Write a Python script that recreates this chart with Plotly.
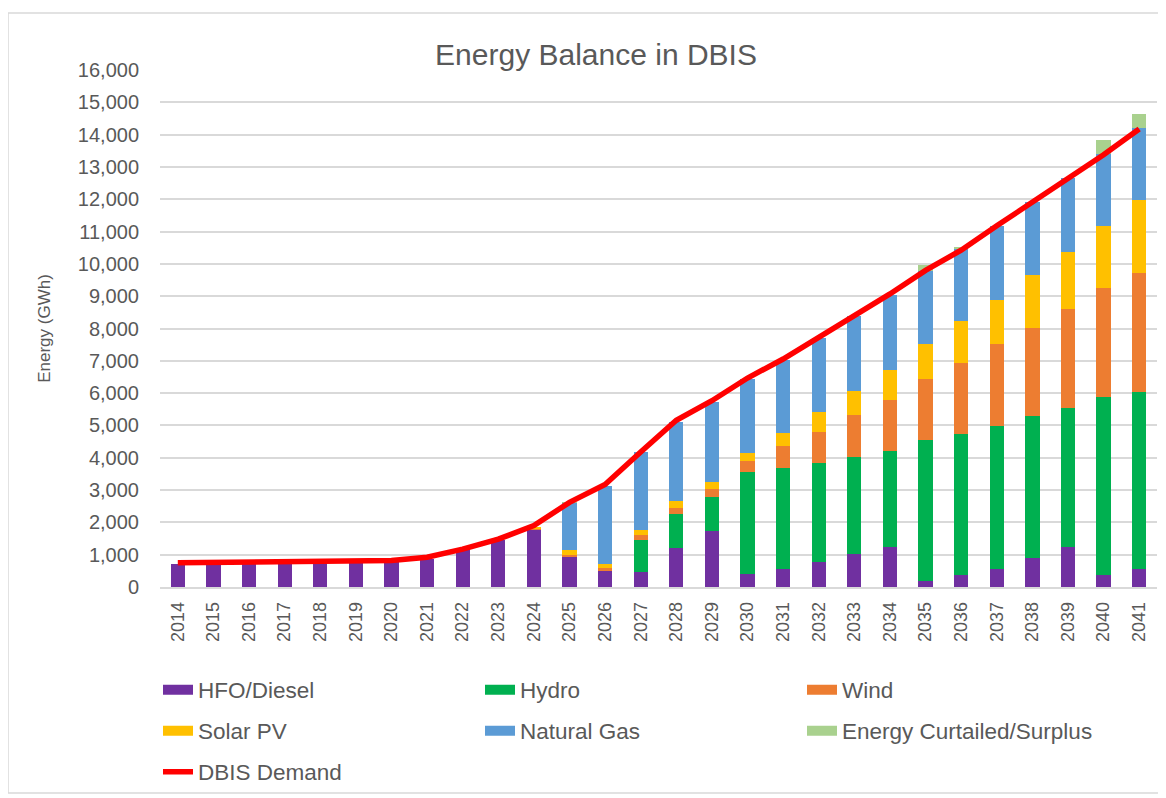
import plotly.graph_objects as go

years = [str(y) for y in range(2014, 2042)]

hfo_diesel = [700, 700, 720, 760, 760, 760, 760, 880, 1140, 1450, 1770, 940, 500, 470,
              1210, 1735, 390, 550, 775, 1035, 1250, 200, 380, 560, 900, 1240, 380, 560]
hydro = [0, 0, 0, 0, 0, 0, 0, 0, 0, 0, 0, 0, 0, 990,
         1050, 1055, 3170, 3130, 3050, 2975, 2945, 4335, 4370, 4420, 4380, 4300, 5500, 5465]
wind = [0, 0, 0, 0, 0, 0, 0, 0, 0, 0, 40, 60, 80, 155,
        175, 240, 340, 670, 980, 1310, 1600, 1890, 2190, 2530, 2750, 3060, 3360, 3690]
solar_pv = [0, 0, 0, 0, 0, 0, 0, 0, 0, 0, 40, 130, 145, 155,
            230, 235, 260, 410, 600, 745, 930, 1085, 1280, 1375, 1620, 1755, 1940, 2260]
natural_gas = [0, 0, 0, 0, 0, 0, 0, 0, 0, 0, 0, 1470, 2415, 2395,
               2445, 2470, 2275, 2265, 2305, 2315, 2325, 2270, 2230, 2295, 2270, 2295, 2220, 2220]
curtailed = [0, 0, 0, 0, 0, 0, 0, 0, 0, 0, 0, 25, 0, 0,
             0, 0, 0, 0, 0, 0, 0, 175, 80, 0, 0, 0, 420, 445]
demand = [750, 760, 790, 820, 820, 820, 820, 920, 1170, 1480, 1900, 2620, 3170, 4180,
          5160, 5765, 6467, 7056, 7727, 8400, 9070, 9800, 10424, 11178, 11921, 12645, 13378, 14174]

series = [
    ("HFO/Diesel", hfo_diesel, "#7030A0", "legend"),
    ("Hydro", hydro, "#00B050", "legend"),
    ("Wind", wind, "#ED7D31", "legend"),
    ("Solar PV", solar_pv, "#FFC000", "legend2"),
    ("Natural Gas", natural_gas, "#5B9BD5", "legend2"),
    ("Energy Curtailed/Surplus", curtailed, "#A9D18E", "legend2"),
]

FONT = "Liberation Sans, Arial, sans-serif"
GREY = "#595959"

fig = go.Figure()
for name, vals, color, lg in series:
    fig.add_trace(go.Bar(x=years, y=vals, name=name, marker=dict(color=color, line=dict(width=0)),
                         showlegend=False))
# legend swatches
for name, vals, color, lg in series:
    fig.add_trace(go.Scatter(x=[None], y=[None], mode="lines", name=name,
                             line=dict(color=color, width=14), legend=lg, showlegend=True))

fig.add_trace(go.Scatter(x=years, y=demand, mode="lines", name="DBIS Demand",
                         line=dict(color="#FF0000", width=5.5), legend="legend3"))

# the page body adds an 8px offset, so the figure is 8px smaller
W, H = 1158, 790
L, R, T, B = 152, 9, 62, 211
pw, ph = W - L - R, H - T - B


def px_x(p):
    return (p - L) / pw


def px_y(p):
    return (H - B - p) / ph


legend_common = dict(orientation="h", xanchor="left", yanchor="middle",
                     xref="container", yref="container",
                     font=dict(family=FONT, size=22.5, color=GREY),
                     entrywidth=277, entrywidthmode="pixels", traceorder="normal",
                     bgcolor="rgba(0,0,0,0)", borderwidth=0, itemwidth=30)

fig.update_layout(
    template="none",
    width=W, height=H,
    margin=dict(l=L, r=R, t=T, b=B, autoexpand=False),
    paper_bgcolor="white", plot_bgcolor="white",
    barmode="stack", bargap=0.6,
    font=dict(family=FONT, color=GREY),
    title=dict(text="Energy Balance in DBIS", font=dict(family=FONT, size=30, color=GREY),
               xref="container", x=588 / W, xanchor="center",
               yref="container", y=1 - 46 / H, yanchor="middle"),
    legend=dict(x=150 / W, y=1 - 682 / H, **legend_common),
    legend2=dict(x=150 / W, y=1 - 723 / H, **legend_common),
    legend3=dict(x=150 / W, y=1 - 764 / H, **legend_common),
    xaxis=dict(type="category", tickangle=-90, tickfont=dict(family=FONT, size=18, color=GREY),
               showgrid=False, showline=True, linecolor="#D9D9D9", linewidth=1.5,
               ticks="", ticklabelstandoff=6, automargin=False, zeroline=False),
    yaxis=dict(range=[0, 16000], dtick=1000, tickformat=",", showgrid=True,
               gridcolor="#D9D9D9", gridwidth=1.5, zeroline=False, showline=False, ticks="",
               tickfont=dict(family=FONT, size=20, color=GREY), ticklabelstandoff=20,
               title=dict(text="Energy (GWh)", font=dict(family=FONT, size=17, color=GREY),
                          standoff=22),
               automargin=False),
    shapes=[dict(type="rect", xref="paper", yref="paper",
                 x0=px_x(0), x1=px_x(1180), y0=px_y(785), y1=px_y(5),
                 line=dict(color="#D9D9D9", width=1.5), fillcolor="rgba(0,0,0,0)", layer="below")],
)

fig.write_html("out.html")
